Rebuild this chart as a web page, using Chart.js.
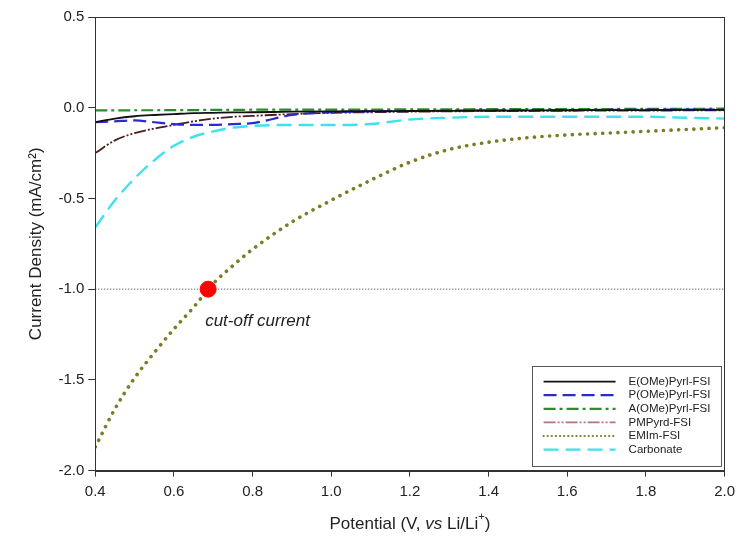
<!DOCTYPE html>
<html lang="en">
<head>
  <meta charset="UTF-8">
  <title>Current Density vs Potential</title>
  <script src="https://cdn.jsdelivr.net/npm/chart.js"></script>
  <style>
    * { margin: 0; padding: 0; box-sizing: border-box; }
    body { background: #fff; }
    #wrap { position: relative; width: 741px; height: 549px; }
  </style>
</head>
<body>
  <div id="wrap"><canvas id="chart"></canvas></div>
  <script>
    // --- data ---
    const potential = [0.4, 0.45, 0.5, 0.55, 0.6, 0.65, 0.7, 0.75, 0.8, 0.9, 1.0, 1.1, 1.2, 1.3, 1.4, 1.5, 1.6, 1.7, 1.8, 1.9, 2.0];

    const eOMePyrl = [-0.08, -0.06, -0.047, -0.04, -0.035, -0.03, -0.028, -0.026, -0.025, -0.022, -0.02, -0.019, -0.018, -0.017, -0.016, -0.015, -0.014, -0.013, -0.013, -0.012, -0.012];
    const pOMePyrl = [-0.08, -0.075, -0.07, -0.08, -0.09, -0.095, -0.095, -0.09, -0.085, -0.04, -0.025, -0.02, -0.018, -0.016, -0.015, -0.014, -0.013, -0.012, -0.011, -0.01, -0.01];
    const aOMePyrl = [-0.015, -0.015, -0.014, -0.014, -0.013, -0.013, -0.012, -0.012, -0.011, -0.011, -0.01, -0.01, -0.009, -0.009, -0.008, -0.008, -0.007, -0.007, -0.006, -0.006, -0.005];
    const pmPyrd = [-0.25, -0.18, -0.14, -0.115, -0.095, -0.075, -0.06, -0.05, -0.045, -0.035, -0.028, -0.025, -0.022, -0.02, -0.019, -0.018, -0.017, -0.016, -0.016, -0.015, -0.015];
    const emIm = [-1.87, -1.66, -1.49, -1.35, -1.22, -1.10, -0.97, -0.87, -0.78, -0.63, -0.51, -0.40, -0.30, -0.23, -0.19, -0.165, -0.15, -0.14, -0.13, -0.12, -0.11];
    const carbonate = [-0.66, -0.51, -0.39, -0.29, -0.21, -0.16, -0.13, -0.11, -0.10, -0.095, -0.095, -0.09, -0.065, -0.055, -0.05, -0.05, -0.05, -0.05, -0.05, -0.055, -0.06];

    const cutoffCurrent = -1.0;
    const cutoffPotential = 0.687;

    const xTicks = [0.4, 0.6, 0.8, 1.0, 1.2, 1.4, 1.6, 1.8, 2.0];
    const yTicks = [-2.0, -1.5, -1.0, -0.5, 0.0, 0.5];

    const FONT = '"Liberation Sans", Arial, sans-serif';

    function pts(ys) {
      return potential.map((x, i) => ({ x: x, y: ys[i] }));
    }

    function series(label, ys, color, dash, width, cap) {
      return {
        label: label,
        data: pts(ys),
        borderColor: color,
        backgroundColor: color,
        borderDash: dash,
        borderWidth: width,
        borderCapStyle: cap || 'butt',
        pointRadius: 0,
        fill: false,
        cubicInterpolationMode: 'monotone',
        inLegend: true
      };
    }

    const datasets = [
      {
        label: 'cut-off point',
        data: [{ x: cutoffPotential, y: cutoffCurrent }],
        showLine: false,
        pointRadius: 8,
        pointBackgroundColor: '#ff0000',
        pointBorderColor: '#ff0000',
        order: -2
      },
      series('E(OMe)Pyrl-FSI', eOMePyrl, '#111111', [], 1.8),
      series('P(OMe)Pyrl-FSI', pOMePyrl, '#2a2ad0', [13, 6], 2.2),
      series('A(OMe)Pyrl-FSI', aOMePyrl, '#2e8a2e', [12, 4, 3, 4], 2.2),
      series('PMPyrd-FSI', pmPyrd, '#4a1c1c', [12, 2, 2, 2, 2, 2], 1.8),
      series('EMIm-FSI', emIm, '#7c7c24', [0.1, 7.5], 3.6, 'round'),
      series('Carbonate', carbonate, '#3fe2ec', [15, 7], 2.4),
      {
        label: 'cut-off line',
        data: [{ x: 0.4, y: cutoffCurrent }, { x: 2.0, y: cutoffCurrent }],
        borderColor: '#333',
        borderWidth: 1,
        borderDash: [1, 2],
        pointRadius: 0,
        order: 5
      }
    ];

    // legend entries may use a lighter colour than the curve
    const legendColors = {
      'PMPyrd-FSI': '#b07878'
    };
    const legendWidths = {
      'EMIm-FSI': 2.2
    };

    // frame round the plot area
    const framePlugin = {
      id: 'frame',
      afterDraw(chart) {
        const a = chart.chartArea;
        const ctx = chart.ctx;
        ctx.save();
        ctx.strokeStyle = '#333';
        ctx.lineWidth = 1;
        ctx.strokeRect(Math.round(a.left) + 0.5, Math.round(a.top) + 0.5,
          Math.round(a.right - a.left), Math.round(a.bottom - a.top));
        ctx.restore();
      }
    };

    // legend box inside the plot, lower right
    const legendPlugin = {
      id: 'insetLegend',
      afterDraw(chart) {
        const a = chart.chartArea;
        const ctx = chart.ctx;
        const w = 189, h = 100;
        const left = a.right - 4 - w;
        const top = a.bottom - 5 - h;
        ctx.save();
        ctx.fillStyle = '#fff';
        ctx.fillRect(left, top, w, h);
        ctx.strokeStyle = '#555';
        ctx.lineWidth = 1;
        ctx.strokeRect(Math.round(left) + 0.5, Math.round(top) + 0.5, w, h);
        ctx.font = '11.5px ' + FONT;
        ctx.textBaseline = 'middle';
        let row = 0;
        chart.data.datasets.forEach(ds => {
          if (!ds.inLegend) return;
          const y = top + 16 + row * 13.6;
          ctx.beginPath();
          ctx.setLineDash(ds.label === 'EMIm-FSI' ? [0.1, 4] : (ds.borderDash || []));
          ctx.lineCap = ds.borderCapStyle || 'butt';
          ctx.lineWidth = legendWidths[ds.label] || Math.min(ds.borderWidth, 2.4);
          ctx.strokeStyle = legendColors[ds.label] || ds.borderColor;
          ctx.moveTo(left + 12, y);
          ctx.lineTo(left + 84, y);
          ctx.stroke();
          ctx.setLineDash([]);
          ctx.fillStyle = '#222';
          ctx.fillText(ds.label, left + 97, y);
          row++;
        });
        ctx.restore();
      }
    };

    // annotation text + x title with italic "vs"
    const textPlugin = {
      id: 'texts',
      afterDraw(chart) {
        const ctx = chart.ctx;
        const xs = chart.scales.x, ys = chart.scales.y;
        ctx.save();
        ctx.fillStyle = '#222';
        ctx.textBaseline = 'middle';
        ctx.font = 'italic 17px ' + FONT;
        ctx.fillText('cut-off current', xs.getPixelForValue(cutoffPotential) - 3, ys.getPixelForValue(cutoffCurrent) + 32);

        // x axis title: Potential (V, vs Li/Li+)
        const parts = [
          { t: 'Potential (V, ', f: '17px ' + FONT },
          { t: 'vs', f: 'italic 17px ' + FONT },
          { t: ' Li/Li', f: '17px ' + FONT },
          { t: '+', f: '11px ' + FONT, sup: true },
          { t: ')', f: '17px ' + FONT }
        ];
        let total = 0;
        parts.forEach(p => { ctx.font = p.f; p.w = ctx.measureText(p.t).width; total += p.w; });
        const a = chart.chartArea;
        let x = (a.left + a.right) / 2 - total / 2;
        const y = 524;
        ctx.textAlign = 'left';
        parts.forEach(p => {
          ctx.font = p.f;
          ctx.fillText(p.t, x, p.sup ? y - 7 : y);
          x += p.w;
        });
        ctx.restore();
      }
    };

    const ctx = document.getElementById('chart').getContext('2d');
    new Chart(ctx, {
      type: 'line',
      data: { datasets: datasets },
      plugins: [framePlugin, legendPlugin, textPlugin],
      options: {
        responsive: true,
        maintainAspectRatio: false,
        animation: false,
        layout: { padding: { left: 26, top: 17, right: 12, bottom: 4 } },
        plugins: {
          legend: { display: false },
          tooltip: { enabled: false }
        },
        scales: {
          x: {
            type: 'linear',
            min: 0.4,
            max: 2.0,
            afterBuildTicks: s => { s.ticks = xTicks.map(v => ({ value: v })); },
            ticks: {
              color: '#222',
              font: { family: FONT, size: 15 },
              padding: 6,
              maxRotation: 0,
              callback: v => v.toFixed(1)
            },
            grid: { drawOnChartArea: false, tickLength: 6, color: '#333' },
            border: { color: '#333' },
            title: {
              display: true,
              text: 'Potential (V, vs Li/Li+)',
              color: 'rgba(0,0,0,0)',
              font: { family: FONT, size: 17 },
              padding: { top: 12, bottom: 6 }
            }
          },
          y: {
            type: 'linear',
            min: -2.0,
            max: 0.5,
            afterBuildTicks: s => { s.ticks = yTicks.map(v => ({ value: v })); },
            ticks: {
              color: '#222',
              font: { family: FONT, size: 15 },
              padding: 4,
              callback: v => v.toFixed(1)
            },
            grid: { drawOnChartArea: false, tickLength: 7, color: '#333' },
            border: { color: '#333' },
            title: {
              display: true,
              text: 'Current Density (mA/cm\u00B2)',
              color: '#222',
              font: { family: FONT, size: 17 },
              padding: { top: 0, bottom: 8 }
            }
          }
        }
      }
    });
  </script>
</body>
</html>
